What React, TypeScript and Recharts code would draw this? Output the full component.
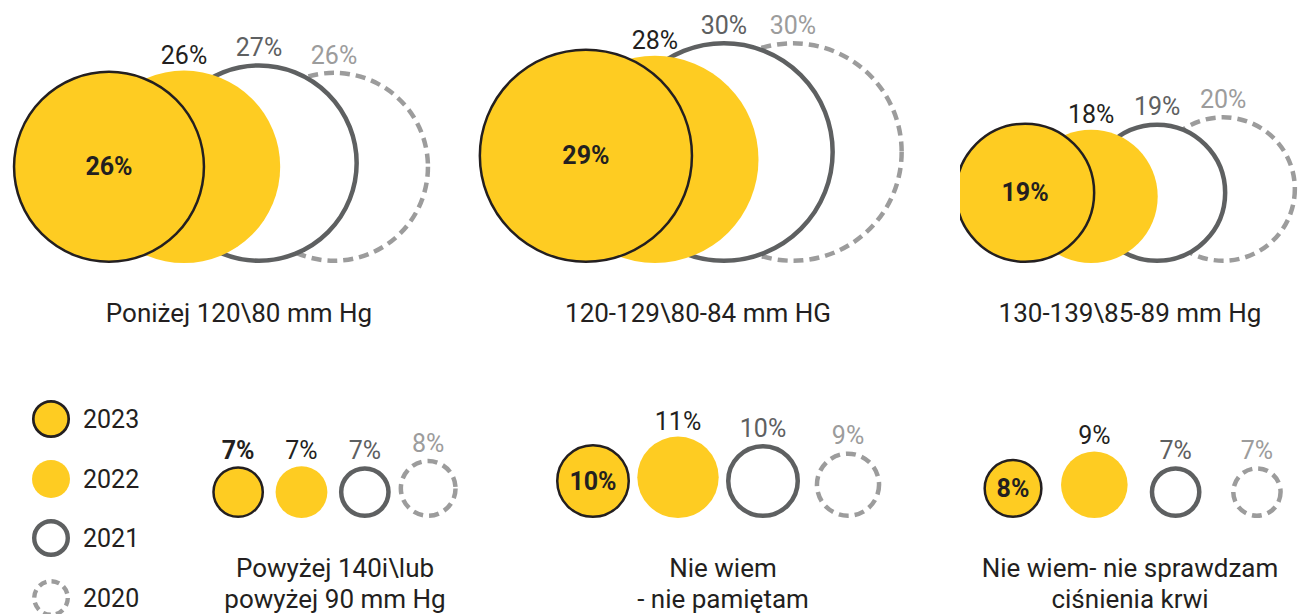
import { BarChart, Bar, XAxis, YAxis, LabelList } from 'recharts';

// years drawn back to front: 2020 sits behind, 2023 in front
const years = ['2020', '2021', '2022', '2023'];

// values per year, in the order of `years`
const below120 = [26, 27, 26, 26];
const range120to129 = [30, 30, 28, 29];
const range130to139 = [20, 19, 18, 19];
const above140 = [8, 7, 7, 7];
const dontRemember = [9, 10, 11, 10];
const dontCheck = [7, 7, 9, 8];

const captions = [
  ['Poniżej 120\\80 mm Hg'],
  ['120-129\\80-84 mm HG'],
  ['130-139\\85-89 mm Hg'],
  ['Powyżej 140i\\lub', 'powyżej 90 mm Hg'],
  ['Nie wiem', '- nie pamiętam'],
  ['Nie wiem- nie sprawdzam', 'ciśnienia krwi'],
];

const groups = [below120, range120to129, range130to139, above140, dontRemember, dontCheck];

const YELLOW = '#FECC22';
const DARK = '#231F20';
const GRAY = '#5E6061';
const LIGHT = '#9C9C9C';
const FONT = 'Roboto, sans-serif';

const PLOT_H = 259; // 35 units -> 7.4px of diameter per percent
const TOP_MARGIN = 4;

const layout = [
  { left: 0, top: 0, width: 478, height: 340, padL: 71.5, padR: 106.5 },
  { left: 460, top: 0, width: 476, height: 340, padL: 91.5, padR: 108.5 },
  { left: 960, top: 0, width: 340, height: 340, padL: 32, padR: 44 },
  { left: 180, top: 255, width: 310, height: 363, padL: 26.3, padR: 30.3 },
  { left: 540, top: 255, width: 366, height: 363, padL: 10.5, padR: 15.5 },
  { left: 960, top: 255, width: 340, height: 363, padL: 12.4, padR: 2.4 },
];

const labelColor: Record<string, string> = {
  '2023': DARK,
  '2022': DARK,
  '2021': GRAY,
  '2020': LIGHT,
};

function YearCircle(props: any) {
  const { x, y, width, height, payload } = props;
  const r = height / 2;
  const cx = x + width / 2;
  const cy = y + r;
  const year = payload?.year;

  if (year === '2023') {
    return <circle cx={cx} cy={cy} r={r - 1.25} fill={YELLOW} stroke={DARK} strokeWidth={2.5} />;
  }
  if (year === '2022') {
    return <circle cx={cx} cy={cy} r={r} fill={YELLOW} />;
  }
  if (year === '2021') {
    return <circle cx={cx} cy={cy} r={r - 2.25} fill="#fff" stroke={GRAY} strokeWidth={4.5} />;
  }
  return (
    <circle cx={cx} cy={cy} r={r - 2.25} fill="none" stroke={LIGHT} strokeWidth={4.5} strokeDasharray="10 6" />
  );
}

function ValueLabel(props: any) {
  const { rows, index, value } = props;
  const vb = props.viewBox ?? props;
  const { x, y, width, height } = vb;
  const year = rows[index]?.year;
  const cx = x + width / 2;

  // the front circle carries its value inside when there is room
  if (year === '2023' && value >= 8) {
    return (
      <text x={cx} y={y + height / 2} textAnchor="middle" dominantBaseline="central"
        fontFamily={FONT} fontSize={25} fontWeight={700} fill={DARK}>
        {value}%
      </text>
    );
  }
  return (
    <text x={cx} y={y - 7} textAnchor="middle" fontFamily={FONT} fontSize={25}
      fontWeight={year === '2023' ? 700 : 400} fill={labelColor[year]}>
      {value}%
    </text>
  );
}

function Caption(props: any) {
  const { viewBox, lines } = props;
  const cx = viewBox.x + viewBox.width / 2;
  return (
    <text x={cx} y={viewBox.y + 59} textAnchor="middle" fontFamily={FONT} fontSize={26} fill={DARK}>
      {lines.map((line: string, i: number) => (
        <tspan key={i} x={cx} dy={i === 0 ? 0 : 31}>{line}</tspan>
      ))}
    </text>
  );
}

function Group({ values, caption, box }: { values: number[]; caption: string[]; box: typeof layout[number] }) {
  const rows = years.map((year, i) => ({ year, value: values[i] }));
  return (
    <div style={{ position: 'absolute', left: box.left, top: box.top }}>
      <BarChart
        width={box.width}
        height={box.height}
        data={rows}
        margin={{ top: TOP_MARGIN, right: 0, left: 0, bottom: 0 }}
      >
        <XAxis
          dataKey="year"
          reversed
          axisLine={false}
          tickLine={false}
          tick={false}
          height={box.height - TOP_MARGIN - PLOT_H}
          padding={{ left: box.padL, right: box.padR }}
          label={<Caption lines={caption} />}
        />
        <YAxis hide type="number" domain={[0, 35]} />
        <Bar dataKey="value" shape={<YearCircle />} isAnimationActive={false}>
          <LabelList dataKey="value" content={<ValueLabel rows={rows} />} />
        </Bar>
      </BarChart>
    </div>
  );
}

function YearLegend() {
  const rowY = [29, 89, 148, 208];
  const order = ['2023', '2022', '2021', '2020'];
  return (
    <svg width={170} height={224} style={{ position: 'absolute', left: 0, top: 390 }}>
      {order.map((year, i) => {
        const cy = rowY[i];
        let mark;
        if (year === '2023') mark = <circle cx={51} cy={cy} r={17.7} fill={YELLOW} stroke={DARK} strokeWidth={2.7} />;
        else if (year === '2022') mark = <circle cx={51} cy={cy} r={19} fill={YELLOW} />;
        else if (year === '2021') mark = <circle cx={51} cy={cy} r={16.8} fill="none" stroke={GRAY} strokeWidth={4.4} />;
        else mark = <circle cx={51} cy={cy} r={16.8} fill="none" stroke={LIGHT} strokeWidth={4.4} strokeDasharray="8 5.2" />;
        return (
          <g key={year}>
            {mark}
            <text x={83} y={cy} dominantBaseline="central" fontFamily={FONT} fontSize={25} fill={DARK}>
              {year}
            </text>
          </g>
        );
      })}
    </svg>
  );
}

export default function App() {
  return (
    <div
      style={{
        position: 'absolute',
        left: 0,
        top: 0,
        width: 1299,
        height: 614,
        overflow: 'hidden',
        background: '#fff',
        fontFamily: FONT,
      }}
    >
      {groups.map((values, i) => (
        <Group key={i} values={values} caption={captions[i]} box={layout[i]} />
      ))}
      <YearLegend />
    </div>
  );
}
